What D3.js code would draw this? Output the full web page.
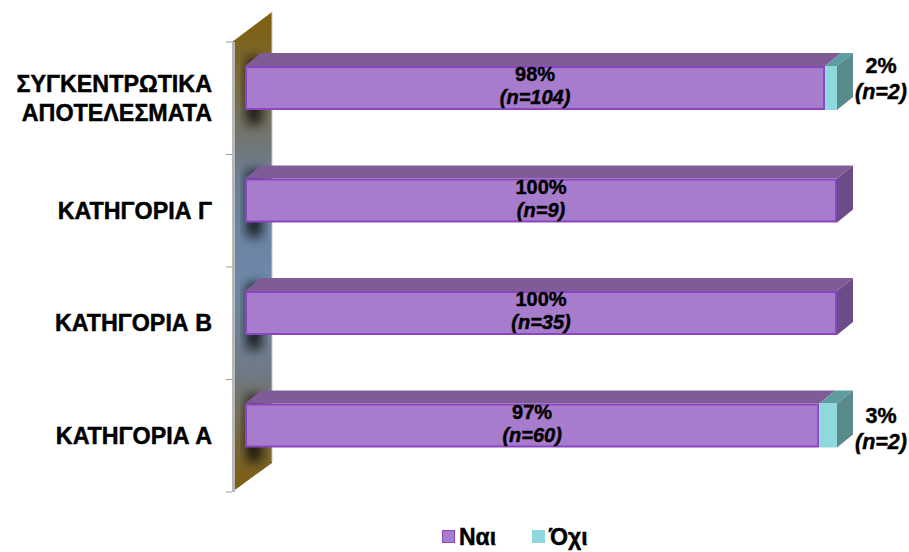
<!DOCTYPE html>
<html><head><meta charset="utf-8">
<script src="https://cdn.jsdelivr.net/npm/d3@7"></script>
<style>body{margin:0;background:#fff}svg{display:block}</style>
</head><body>
<svg id="c" width="909" height="552"></svg>
<script>
// ---- data ----
const categories = ["ΣΥΓΚΕΝΤΡΩΤΙΚΑ ΑΠΟΤΕΛΕΣΜΑΤΑ", "ΚΑΤΗΓΟΡΙΑ Γ", "ΚΑΤΗΓΟΡΙΑ Β", "ΚΑΤΗΓΟΡΙΑ Α"];
const categoryLines = [["ΣΥΓΚΕΝΤΡΩΤΙΚΑ", "ΑΠΟΤΕΛΕΣΜΑΤΑ"], ["ΚΑΤΗΓΟΡΙΑ Γ"], ["ΚΑΤΗΓΟΡΙΑ Β"], ["ΚΑΤΗΓΟΡΙΑ Α"]];
const seriesNames = ["Ναι", "Όχι"];
const naiPct = [98, 100, 100, 97];
const ochiPct = [2, 0, 0, 3];
const naiN = [104, 9, 35, 60];
const ochiN = [2, 0, 0, 2];

// ---- layout ----
const FONT = "Arial, 'Liberation Sans', sans-serif";
const svg = d3.select("#c");
const y = d3.scaleBand().domain(categories).range([42, 492]);
const x = d3.scaleLinear().domain([0, 100]).range([245, 837]);
const wallDX = 40, wallDY = -30;
const dX = 16, dY = -13;
const barOff = 24, barH = 44;

const defs = svg.append("defs");
const wg = defs.append("linearGradient").attr("id", "wallG").attr("x1", 0).attr("y1", 0).attr("x2", 0).attr("y2", 1);
[[0, "#7f5f0a"], [0.15, "#7a6a3e"], [0.35, "#6c7e98"], [0.55, "#6d88aa"], [0.75, "#6f7a86"], [0.88, "#776740"], [1, "#7d5e0c"]]
  .forEach(([o, c]) => wg.append("stop").attr("offset", o).attr("stop-color", c));
const blur = defs.append("filter").attr("id", "blur").attr("x", "-50%").attr("y", "-50%").attr("width", "200%").attr("height", "200%");
blur.append("feGaussianBlur").attr("stdDeviation", 6);

const x0 = x.range()[0] - 13, yTop = y.range()[0], yBot = y.range()[1];
const wallPts = [[x0, yTop], [x0 + wallDX, yTop + wallDY], [x0 + wallDX, yBot + wallDY + 1], [x0, yBot]];
defs.append("clipPath").attr("id", "wallClip").append("polygon").attr("points", wallPts.join(" "));

svg.append("polygon").attr("points", wallPts.join(" ")).attr("fill", "url(#wallG)");
const shadowG = svg.append("g").attr("clip-path", "url(#wallClip)").append("g").attr("filter", "url(#blur)");
categories.forEach(c => {
  shadowG.append("rect").attr("x", x.range()[0] + 2).attr("y", y(c) + barOff - 8)
    .attr("width", 14).attr("height", barH + 22).attr("fill", "#000").attr("opacity", 0.85);
});
svg.append("line").attr("x1", x0 + 1.5).attr("x2", x0 + 1.5).attr("y1", yTop).attr("y2", yBot)
  .attr("stroke", "#b8b8b8").attr("stroke-width", 3);
svg.append("line").attr("x1", x0 + wallDX).attr("x2", x0 + wallDX).attr("y1", yTop + wallDY).attr("y2", yBot + wallDY)
  .attr("stroke", "#c8c8c8").attr("stroke-width", 1);
const tickYs = categories.map(c => y(c)).concat([yBot]);
svg.selectAll(".tk").data(tickYs).enter().append("line")
  .attr("x1", x0 - 6).attr("x2", x0).attr("y1", d => d).attr("y2", d => d)
  .attr("stroke", "#999").attr("stroke-width", 1);

// ---- bars ----
const naiCol = { front: "#a87ccc", stroke: "#8a45c0", top: "#7f5c98", side: "#6c4c88" };
const ochiCol = { front: "#8fd8dd", stroke: "#8fd8dd", top: "#5f9ca0", side: "#5a8b8c" };

function box(g, xa, xb, yt, col, showSide) {
  const yb = yt + barH;
  g.append("polygon").attr("points", [[xa, yt], [xa + dX, yt + dY], [xb + dX, yt + dY], [xb, yt]].join(" "))
    .attr("fill", col.top);
  if (showSide) g.append("polygon").attr("points", [[xb, yt], [xb + dX, yt + dY], [xb + dX, yb + dY], [xb, yb]].join(" "))
    .attr("fill", col.side);
  g.append("rect").attr("x", xa + 1).attr("y", yt + 1).attr("width", Math.max(0, xb - xa - 2)).attr("height", barH - 2)
    .attr("fill", col.front).attr("stroke", col.stroke).attr("stroke-width", 2);
}

function baseText(g, tx, ty, size, anchor) {
  return g.append("text").attr("x", tx).attr("y", ty).attr("text-anchor", anchor)
    .attr("font-family", FONT).attr("font-weight", 700).attr("font-size", size)
    .attr("fill", "#000").attr("stroke", "#000").attr("stroke-width", 0.45);
}
function txt(g, tx, ty, size, str, anchor) {
  return baseText(g, tx, ty, size, anchor).text(str);
}
function valueLabel(g, tx, ty, gap, size, pct, n) {
  const t = baseText(g, tx, ty, size, "middle");
  t.append("tspan").attr("x", tx).attr("y", ty).text(pct + "%");
  t.append("tspan").attr("x", tx).attr("y", ty + gap).attr("font-style", "italic").text("(n=" + n + ")");
}

const bars = svg.append("g");
categories.forEach((c, i) => {
  const yt = y(c) + barOff;
  const g = bars.append("g");
  const xn = x(naiPct[i]);
  box(g, x(0), xn, yt, naiCol, ochiPct[i] === 0);
  if (ochiPct[i] > 0) box(g, xn, x(naiPct[i] + ochiPct[i]), yt, ochiCol, true);
  const cy = yt + barH / 2;
  valueLabel(g, (x(0) + xn) / 2, cy - 7, 23, 20, naiPct[i], naiN[i]);
  if (ochiPct[i] > 0) {
    const oy = i === 0 ? cy - 15 : cy - 3;
    valueLabel(g, 881, oy, 26, 21.5, ochiPct[i], ochiN[i]);
  }
});

// ---- category labels ----
categories.forEach((c, i) => {
  const lines = categoryLines[i];
  const cy = y(c) + y.bandwidth() / 2;
  const lh = 29;
  lines.forEach((l, j) => {
    txt(svg, 212, cy + (j - (lines.length - 1) / 2) * lh + 8, 23.3, l, "end");
  });
});

// ---- legend ----
const legend = svg.append("g");
const legItems = [{ name: seriesNames[0], col: naiCol.front, stroke: naiCol.stroke, x: 442 }, { name: seriesNames[1], col: ochiCol.front, stroke: ochiCol.front, x: 532 }];
legItems.forEach(d => {
  legend.append("rect").attr("x", d.x + 0.5).attr("y", 530.5).attr("width", 12).attr("height", 12)
    .attr("fill", d.col).attr("stroke", d.stroke).attr("stroke-width", 1);
  txt(legend, d.x + 17, 545, 23, d.name, "start");
});
</script>
</body></html>
